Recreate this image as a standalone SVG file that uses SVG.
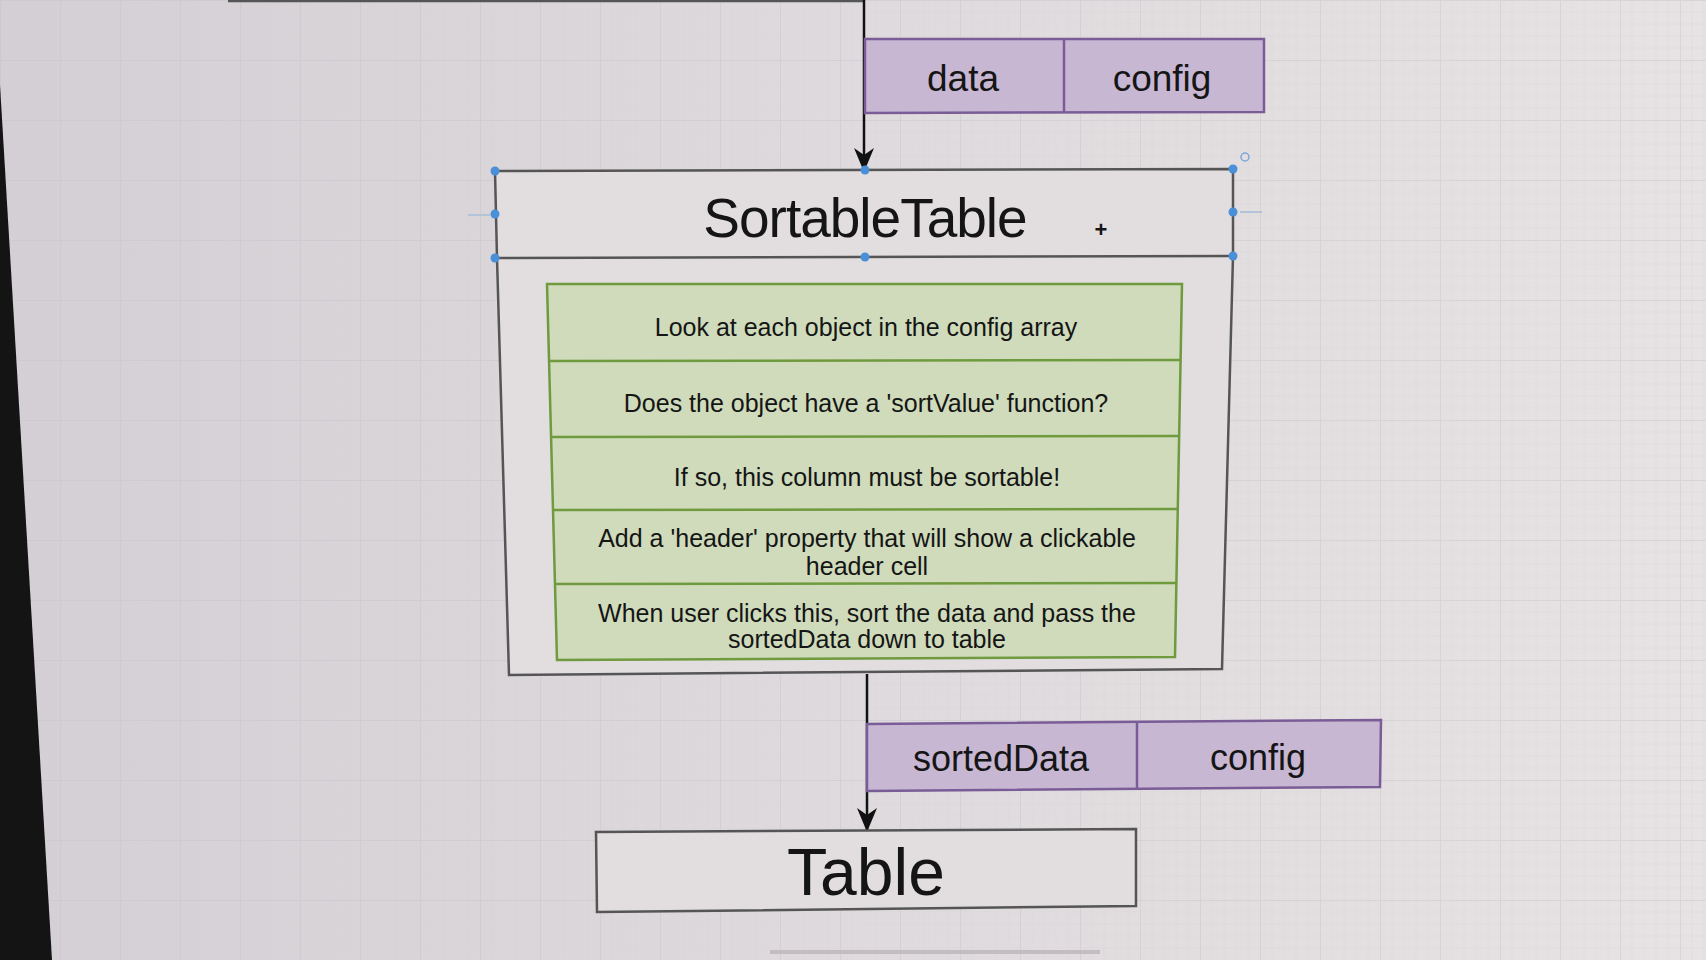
<svg xmlns="http://www.w3.org/2000/svg" width="1706" height="960" viewBox="0 0 1706 960">
<defs>
  <linearGradient id="bg" x1="0" y1="0" x2="1" y2="0">
    <stop offset="0" stop-color="#d3cfd4"/>
    <stop offset="0.5" stop-color="#dedadd"/>
    <stop offset="1" stop-color="#e7e3e4"/>
  </linearGradient>
  <pattern id="grid" width="60" height="60" patternUnits="userSpaceOnUse">
    <path d="M12 0V60M24 0V60M36 0V60M48 0V60M0 12H60M0 24H60M0 36H60M0 48H60" stroke="#d2ced3" stroke-width="0.6" fill="none"/>
    <path d="M0 0.5H60M0.5 0V60" stroke="#c6c2c8" stroke-width="1" fill="none"/>
  </pattern>
  <marker id="arrow" viewBox="0 0 24 20" refX="23" refY="10" markerWidth="24" markerHeight="20" markerUnits="userSpaceOnUse" orient="auto">
    <path d="M0,0 L24,10 L0,20 L7,10 z" fill="#111"/>
  </marker>
  <style>
    .box{fill:#e2dee0;stroke:#555;stroke-width:2.5}
    .prop{fill:#c8b7d3;stroke:#7a5c96;stroke-width:2.5}
    .step{fill:#cfdbbb;stroke:#6f9a3e;stroke-width:2.5}
    .conn{stroke:#111;stroke-width:2.5;fill:none}
    .t{font-family:"Liberation Sans",Arial,sans-serif;fill:#151515;text-anchor:middle}
    .handle{fill:#4a90d9}
  </style>
</defs>
<rect width="1706" height="960" fill="url(#bg)"/>
<rect width="1706" height="960" fill="url(#grid)" opacity="0.45"/>
<polygon points="0,85 52,960 0,960" fill="#141414"/>
<line x1="228" y1="1" x2="865" y2="1" stroke="#555" stroke-width="2.5"/>
<line x1="770" y1="952" x2="1100" y2="952" stroke="#bdb6bb" stroke-width="4" opacity="0.8"/>

<g id="connectors">
  <line class="conn" x1="864" y1="0" x2="864" y2="171" marker-end="url(#arrow)"/>
  <line class="conn" x1="867" y1="674" x2="867" y2="831" marker-end="url(#arrow)"/>
</g>

<g id="props-top">
  <polygon class="prop" points="865,39 1264,39 1264,112 865,113"/>
  <line x1="1064" y1="39" x2="1064" y2="112" stroke="#7a5c96" stroke-width="2.5"/>
  <text class="t" x="963" y="91" font-size="37">data</text>
  <text class="t" x="1162" y="91" font-size="37">config</text>
</g>

<g id="sortable-table">
  <polygon class="box" points="495,171 1233,169 1233,256 1222,669 509,675 497,258"/>
  <line x1="495" y1="258" x2="1233" y2="256" stroke="#555" stroke-width="2.5"/>
  <text class="t" x="865" y="237" font-size="55" letter-spacing="-1">SortableTable</text>
  <text class="t" x="1101" y="237" font-size="22" font-weight="bold">+</text>
  <g class="handle">
    <circle cx="495" cy="171" r="4.5"/><circle cx="865" cy="170" r="4.5"/><circle cx="1233" cy="169" r="4.5"/>
    <circle cx="495" cy="214" r="4.5"/><circle cx="1233" cy="212" r="4.5"/>
    <circle cx="495" cy="258" r="4.5"/><circle cx="865" cy="257" r="4.5"/><circle cx="1233" cy="256" r="4.5"/>
  </g>
  <circle cx="1245" cy="157" r="4" fill="none" stroke="#7aa6d8" stroke-width="1.5"/>
  <path d="M468 215H490M1240 212H1262" stroke="#b3c4d8" stroke-width="2"/>
</g>

<g id="steps">
  <polygon class="step" points="547,284 1182,284 1175,657 557,660"/>
  <line x1="549" y1="361" x2="1181" y2="360" stroke="#6f9a3e" stroke-width="2.5"/>
  <line x1="552" y1="437" x2="1179" y2="436" stroke="#6f9a3e" stroke-width="2.5"/>
  <line x1="553" y1="510" x2="1178" y2="509" stroke="#6f9a3e" stroke-width="2.5"/>
  <line x1="555" y1="584" x2="1177" y2="583" stroke="#6f9a3e" stroke-width="2.5"/>
  <text class="t" x="866" y="336" font-size="25">Look at each object in the config array</text>
  <text class="t" x="866" y="412" font-size="25">Does the object have a 'sortValue' function?</text>
  <text class="t" x="867" y="486" font-size="25">If so, this column must be sortable!</text>
  <text class="t" x="867" y="547" font-size="25">Add a 'header' property that will show a clickable</text>
  <text class="t" x="867" y="575" font-size="25">header cell</text>
  <text class="t" x="867" y="622" font-size="25">When user clicks this, sort the data and pass the</text>
  <text class="t" x="867" y="648" font-size="25">sortedData down to table</text>
</g>

<g id="props-bottom">
  <polygon class="prop" points="867,724 1381,720 1380,787 867,791"/>
  <line x1="1137" y1="722" x2="1137" y2="789" stroke="#7a5c96" stroke-width="2.5"/>
  <text class="t" x="1001" y="771" font-size="36">sortedData</text>
  <text class="t" x="1258" y="770" font-size="36">config</text>
</g>

<g id="table">
  <polygon class="box" points="596,832 1136,829 1136,906 597,912"/>
  <text class="t" x="866" y="895" font-size="66">Table</text>
</g>
</svg>
